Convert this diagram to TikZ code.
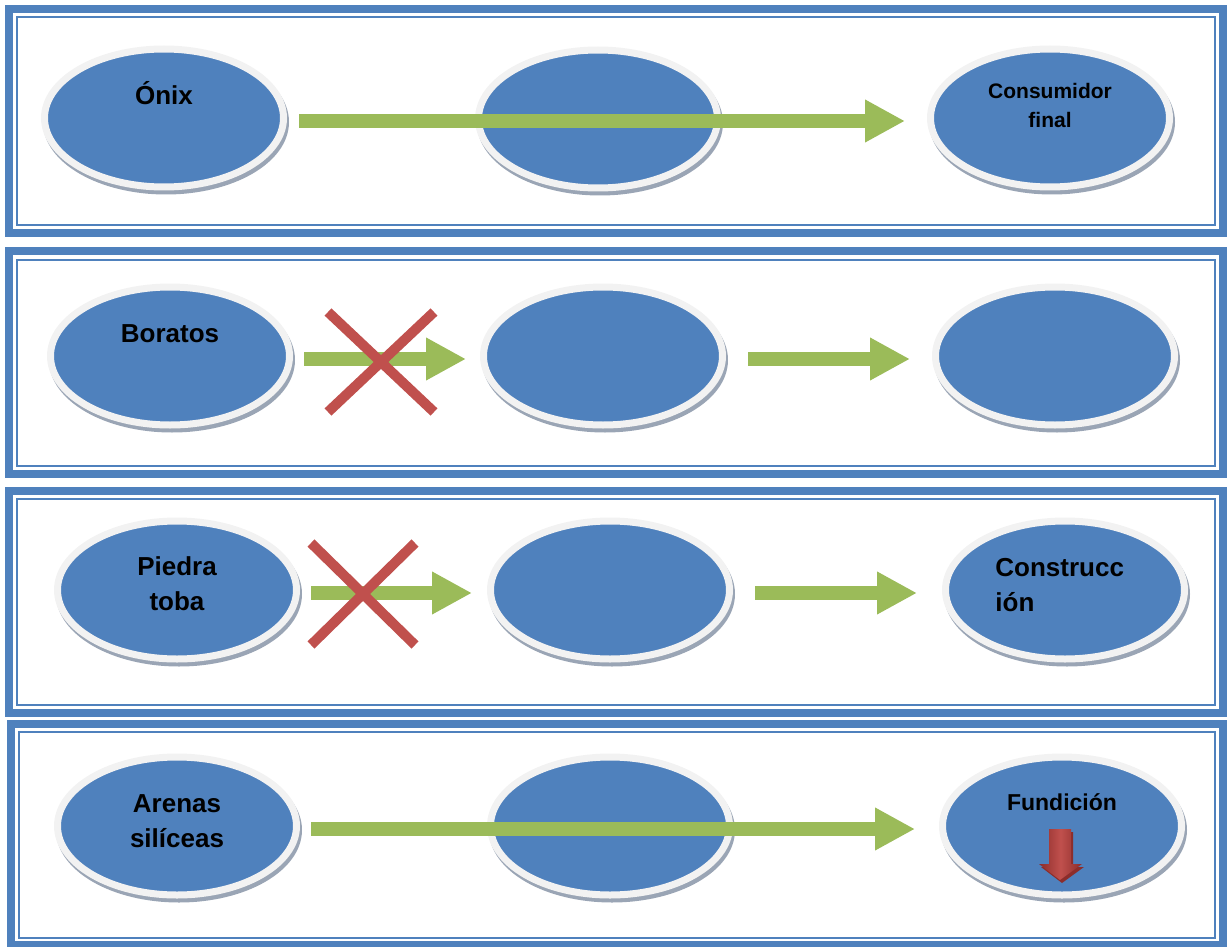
\documentclass[tikz,border=0pt]{standalone}
\usepackage{fontspec}
\setmainfont{Liberation Sans}
\usetikzlibrary{shapes.geometric,arrows.meta,positioning}

\definecolor{ovalblue}{HTML}{4F81BD}
\definecolor{rimgrey}{HTML}{F2F2F2}
\definecolor{rimshadow}{HTML}{9AA5B5}
\definecolor{flowgreen}{HTML}{9BBB59}
\definecolor{crossred}{HTML}{C0504D}
\definecolor{darkred}{HTML}{8C2D2B}

\tikzset{
  oval/.style={ellipse, fill=ovalblue, draw=rimgrey, line width=3.5pt,
    minimum width=119.5pt, minimum height=69pt, inner sep=0pt,
    preaction={draw=rimshadow, fill=rimshadow, transform canvas={xshift=1pt,yshift=-2pt}}},
  lbl/.style={font=\bfseries\fontsize{13}{17.5}\selectfont, align=center, inner sep=0pt, anchor=base},
  flow/.style={draw=flowgreen, line width=7pt, -{Triangle[length=20pt,width=20pt]}},
  cross/.style={draw=crossred, line width=5pt},
  frameout/.style={draw=ovalblue, line width=4pt},
  framein/.style={draw=ovalblue, line width=1.25pt}
}

\begin{document}
\begin{tikzpicture}[x=0.5pt,y=-0.5pt]
\useasboundingbox (0,0) rectangle (1227,947);

% frames
\draw[frameout] (9,9) rectangle (1223,233);
\draw[framein] (17,17) rectangle (1215,225);
\draw[frameout] (9,251) rectangle (1223,474);
\draw[framein] (17,260) rectangle (1215,466);
\draw[frameout] (9,491) rectangle (1223,713);
\draw[framein] (17,499) rectangle (1215,705);
\draw[frameout] (11,724) rectangle (1223,945);
\draw[framein] (19,732) rectangle (1215,938);

% ovals
\node[oval] (onix) at (164,118) {};
\node[oval] (mid1) at (598,119) {};
\node[oval] (consumidor) at (1050,118) {};
\node[oval] (boratos) at (170,356) {};
\node[oval] (mid2) at (603,356) {};
\node[oval] (end2) at (1055,356) {};
\node[oval] (piedra) at (177,590) {};
\node[oval] (mid3) at (610,590) {};
\node[oval] (construccion) at (1065,590) {};
\node[oval] (arenas) at (177,826) {};
\node[oval] (mid4) at (610,826) {};
\node[oval] (fundicion) at (1062,826) {};

% flows
\draw[flow, shorten <=6pt, shorten >=11pt] ([yshift=-1.5pt]onix.east) -- ([yshift=-1.5pt]consumidor.west);
\draw[flow, shorten <=5.5pt, shorten >=7pt] ([yshift=-1.5pt]boratos.east) -- ([yshift=-1.5pt]mid2.west);
\draw[flow, shorten <=11pt, shorten >=11pt] ([yshift=-1.5pt]mid2.east) -- ([yshift=-1.5pt]end2.west);
\draw[flow, shorten <=5.5pt, shorten >=7.5pt] ([yshift=-1.5pt]piedra.east) -- ([yshift=-1.5pt]mid3.west);
\draw[flow, shorten <=11pt, shorten >=12.5pt] ([yshift=-1.5pt]mid3.east) -- ([yshift=-1.5pt]construccion.west);
\draw[flow, shorten <=5.5pt, shorten >=12pt] ([yshift=-1.5pt]arenas.east) -- ([yshift=-1.5pt]fundicion.west);

% blocked
\coordinate (block2) at (381,362);
\coordinate (block3) at (363,594);
\draw[cross] ([shift={(-53,-50)}]block2) -- ([shift={(53,50)}]block2);
\draw[cross] ([shift={(53,-50)}]block2) -- ([shift={(-53,50)}]block2);
\draw[cross] ([shift={(-52,-51)}]block3) -- ([shift={(52,51)}]block3);
\draw[cross] ([shift={(52,-51)}]block3) -- ([shift={(-52,51)}]block3);

% texts
\node[lbl] (onixtxt) at ([yshift=6.5pt]onix.center) {Ónix};
\node[lbl, font=\bfseries\fontsize{10.5}{14}\selectfont] (consumidortxt) at ([yshift=-4.5pt]consumidor.center) {Consumidor\\final};
\node[lbl] (boratostxt) at ([yshift=7pt]boratos.center) {Boratos};
\node[lbl] (piedratxt) at ([yshift=-10pt]piedra.center) {Piedra\\toba};
\node[lbl, anchor=base west, align=left] (construcciontxt) at ([xshift=-35pt,yshift=-10.5pt]construccion.center) {Construcc\\ión};
\node[lbl] (arenastxt) at ([yshift=-10.5pt]arenas.center) {Arenas\\silíceas};
\node[lbl, font=\bfseries\fontsize{11.5}{15}\selectfont] (fundiciontxt) at ([yshift=8pt]fundicion.center) {Fundición};

% down cue
\fill[darkred] (1051,832) -- (1073,832) -- (1073,867) -- (1084,867) -- (1062,883) -- (1041,867) -- (1051,867) -- cycle;
\shade[left color=darkred, right color=darkred, middle color=crossred] (1049,829) -- (1071,829) -- (1071,864) -- (1082,864) -- (1060,880) -- (1039,864) -- (1049,864) -- cycle;
\end{tikzpicture}
\end{document}
